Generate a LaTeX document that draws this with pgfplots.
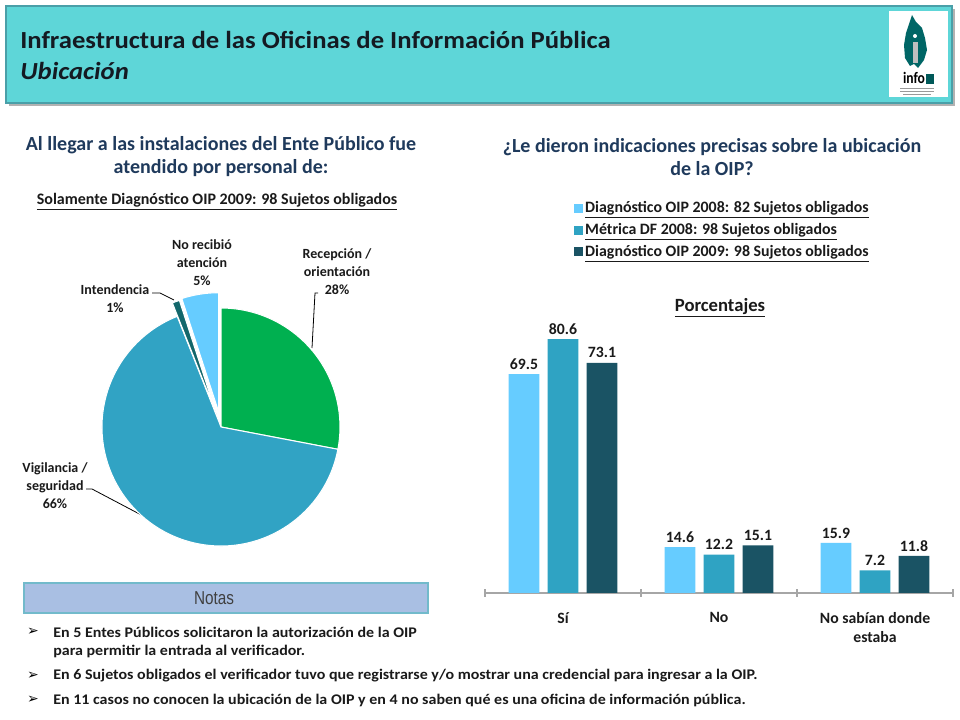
\documentclass[border=0pt]{standalone}
\usepackage{pgfplots}
\pgfplotsset{compat=1.18}
\usepackage{graphicx}
\usepackage{fontspec}
\setmainfont{Carlito}
\newfontfamily\dejavu{DejaVu Sans}
\newfontfamily\arialf{Liberation Sans}
\definecolor{hdr}{HTML}{5ED6D8}
\definecolor{hdrb}{HTML}{4A9FA8}
\definecolor{titc}{HTML}{141A22}
\definecolor{sect}{HTML}{1F3A5C}
\definecolor{cGreen}{HTML}{00B050}
\definecolor{cBlue}{HTML}{31A3C4}
\definecolor{cInt}{HTML}{13676B}
\definecolor{cLight}{HTML}{66CCFF}
\definecolor{bLight}{HTML}{66CCFF}
\definecolor{bMid}{HTML}{2FA3C3}
\definecolor{bDark}{HTML}{1A5364}
\definecolor{notes}{HTML}{A9BFE3}
\definecolor{notesb}{HTML}{72BACB}
\definecolor{txt}{HTML}{1A1A1A}
\pgfplotsset{sqlegend/.style={legend image code/.code={\fill[##1] (0pt,-3.4pt) rectangle (6.8pt,3.4pt);}}}
\begin{document}
\begin{tikzpicture}
\useasboundingbox (0pt,0pt) rectangle (720pt,540pt);
\fill[white] (0pt,0pt) rectangle (720pt,540pt);
\begin{scope}[shift={(0pt,540pt)},x=0.75pt,y=-0.75pt]
% header
\fill[black!30] (9,9) rectangle (955,106);
\fill[hdr] (6,6) rectangle (952,103);
\draw[hdrb, line width=1.5pt] (6,6) rectangle (952,103);
\node[anchor=west, inner sep=0, text=titc, font=\bfseries\fontsize{20}{24}\selectfont] at (20,40) {\scalebox{1}[0.92]{Infraestructura de las Oficinas de Información Pública}};
\node[anchor=west, inner sep=0, text=titc, font=\bfseries\itshape\fontsize{20}{24}\selectfont] at (20,71) {\scalebox{1}[0.92]{Ubicación}};
% logo
\fill[white] (889,11) rectangle (948,97);
\fill[teal!80!black] (912,15) -- (916,22) -- (922,28) -- (925,38) -- (927,50) -- (924,60) -- (918,68) -- (914,64) -- (910,66) -- (905,58) -- (904,45) -- (906,33) -- (909,24) -- cycle;
\fill[black!25] (913,42) rectangle (918,63);
\fill[white] (915,36) circle (2);
\node[inner sep=0, font=\bfseries\fontsize{12}{12}\selectfont] at (914,78) {\scalebox{0.85}[1]{info}};
\fill[teal!70!black] (926,74) rectangle (934,84);
\draw[black!40, line width=0.3pt] (900,88) -- (934,88) (900,91) -- (934,91) (903,94) -- (931,94);
% section titles
\node[align=center, text=sect, font=\bfseries\fontsize{15}{17.25}\selectfont] at (221,157) {Al llegar a las instalaciones del Ente Público fue\\atendido por personal de:};
\node[align=center, text=sect, font=\bfseries\fontsize{15}{17.25}\selectfont] at (712,157) {¿Le dieron indicaciones precisas sobre la ubicación\\de la OIP?};
\node[text=txt, font=\bfseries\fontsize{12}{14}\selectfont] at (217,202) {\underline{Solamente Diagnóstico OIP 2009: 98 Sujetos obligados}};
\node[text=txt, font=\bfseries\fontsize{14}{16}\selectfont] at (720,308) {\underline{Porcentajes}};
% pie labels
\node[align=center, text=txt, font=\bfseries\fontsize{10.5}{13.5}\selectfont] at (202,263) {No recibió\\atención\\5\%};
\node[align=center, text=txt, font=\bfseries\fontsize{10.5}{13.5}\selectfont] at (337,272) {Recepción /\\orientación\\28\%};
\node[align=center, text=txt, font=\bfseries\fontsize{10.5}{13.5}\selectfont] at (115,299) {Intendencia\\1\%};
\node[align=center, text=txt, font=\bfseries\fontsize{10.5}{13.5}\selectfont] at (55,486) {Vigilancia /\\seguridad\\66\%};
\draw[black, line width=0.6pt] (152,293) -- (160,293) -- (174,300);
\draw[black, line width=0.6pt] (318,293) -- (315,293) -- (312,348);
\draw[black, line width=0.6pt] (86,489) -- (92,489) -- (147,518);
% notes
\fill[notes] (24,583) rectangle (428,613);
\draw[notesb, line width=1.2pt] (24,583) rectangle (428,613);
\node[text=black!75, font=\arialf\fontsize{14}{16}\selectfont] at (214,598) {\scalebox{0.82}[1]{Notas}};
\foreach \yy in {632,676,700} {\node[font=\dejavu\fontsize{10.5}{12}\selectfont] at (33,\yy) {➢};}
\node[anchor=west, inner sep=0, text=txt, font=\bfseries\fontsize{12}{14}\selectfont] at (53,632) {\scalebox{1}[0.92]{En 5 Entes Públicos solicitaron la autorización de la OIP}};
\node[anchor=west, inner sep=0, text=txt, font=\bfseries\fontsize{12}{14}\selectfont] at (53,651) {\scalebox{1}[0.92]{para permitir la entrada al verificador.}};
\node[anchor=west, inner sep=0, text=txt, font=\bfseries\fontsize{12}{14}\selectfont] at (53,676) {\scalebox{1}[0.92]{En 6 Sujetos obligados el verificador tuvo que registrarse y/o mostrar una credencial para ingresar a la OIP.}};
\node[anchor=west, inner sep=0, text=txt, font=\bfseries\fontsize{12}{14}\selectfont] at (53,700) {\scalebox{1}[0.92]{En 11 casos no conocen la ubicación de la OIP y en 4 no saben qué es una oficina de información pública.}};
\end{scope}
% ---------- pie ----------
\def\vRec{28}\def\vVig{66}\def\vInt{1}\def\vNo{5}
\pgfmathsetmacro\aA{90}
\pgfmathsetmacro\aB{\aA-3.6*\vRec}
\pgfmathsetmacro\aC{\aB-3.6*\vVig}
\pgfmathsetmacro\aD{\aC-3.6*\vInt}
\pgfmathsetmacro\aE{\aD-3.6*\vNo}
\pgfmathsetmacro\mD{(\aC+\aD)/2}
\pgfmathsetmacro\mE{(\aD+\aE)/2}
\pgfmathsetmacro\dDx{0.12*cos(\mD)}\pgfmathsetmacro\dDy{0.12*sin(\mD)}
\pgfmathsetmacro\dEx{0.13*cos(\mE)}\pgfmathsetmacro\dEy{0.13*sin(\mE)}
\begin{axis}[at={(165.75pt,219.75pt)}, anchor=center, scale only axis,
  x=89.25pt, y=89.25pt, xmin=-1.3, xmax=1.3, ymin=-1.3, ymax=1.3, hide axis, clip=false]
\fill[cGreen, draw=white, line width=0.8pt] (axis cs:0,0) -- (axis cs:{cos(\aA)},{sin(\aA)}) arc[start angle=\aA, end angle=\aB, radius=89.25pt] -- cycle;
\fill[cBlue, draw=white, line width=0.8pt] (axis cs:0,0) -- (axis cs:{cos(\aB)},{sin(\aB)}) arc[start angle=\aB, end angle=\aC, radius=89.25pt] -- cycle;
\fill[cInt, draw=white, line width=0.8pt] (axis cs:\dDx,\dDy) -- (axis cs:{\dDx+cos(\aC)},{\dDy+sin(\aC)}) arc[start angle=\aC, end angle=\aD, radius=89.25pt] -- cycle;
\fill[cLight, draw=white, line width=0.8pt] (axis cs:\dEx,\dEy) -- (axis cs:{\dEx+cos(\aD)},{\dEy+sin(\aD)}) arc[start angle=\aD, end angle=\aE, radius=89.25pt] -- cycle;
\end{axis}
% ---------- bars ----------
\begin{axis}[at={(363.75pt,95.25pt)}, anchor=south west, scale only axis,
  width=351pt, height=212.6pt, xmin=-0.5, xmax=2.5, ymin=0, ymax=90,
  axis x line*=bottom, axis y line=none, axis line style={-, draw=black!35, line width=0.8pt},
  ybar, bar width=0.198,
  xtick={0,1,2}, xticklabels={Sí,No,{No sabían donde\\estaba}},
  major tick length=0pt, minor xtick={-0.5,0.5,1.5,2.5}, minor tick length=6pt, tick align=center,
  minor tick style={draw=black!35, line width=0.8pt},
  xticklabel style={align=center, text=txt, font=\bfseries\fontsize{11.8}{14}\selectfont, yshift=-11pt},
  ytick=\empty,
  /pgf/number format/assume math mode=true,
  nodes near coords, nodes near coords style={text=txt, font=\bfseries\fontsize{11.8}{14}\selectfont, /pgf/number format/.cd, fixed, fixed zerofill, precision=1},
  legend style={at={(0.18,1.40)}, anchor=north west, draw=none, fill=none, font=\bfseries\fontsize{11.9}{13}\selectfont, text=txt, row sep=2.5pt},
  legend cell align=left,
  clip=false]
\addplot[fill=bLight, draw=none, bar shift=-0.25, sqlegend] coordinates {(0,69.5) (1,14.6) (2,15.9)};
\addlegendentry{\underline{Diagnóstico OIP 2008: 82 Sujetos obligados}}
\addplot[fill=bMid, draw=none, bar shift=0, sqlegend] coordinates {(0,80.6) (1,12.2) (2,7.2)};
\addlegendentry{\underline{Métrica DF 2008: 98 Sujetos obligados}}
\addplot[fill=bDark, draw=none, bar shift=0.25, sqlegend] coordinates {(0,73.1) (1,15.1) (2,11.8)};
\addlegendentry{\underline{Diagnóstico OIP 2009: 98 Sujetos obligados}}
\end{axis}
\end{tikzpicture}
\end{document}
